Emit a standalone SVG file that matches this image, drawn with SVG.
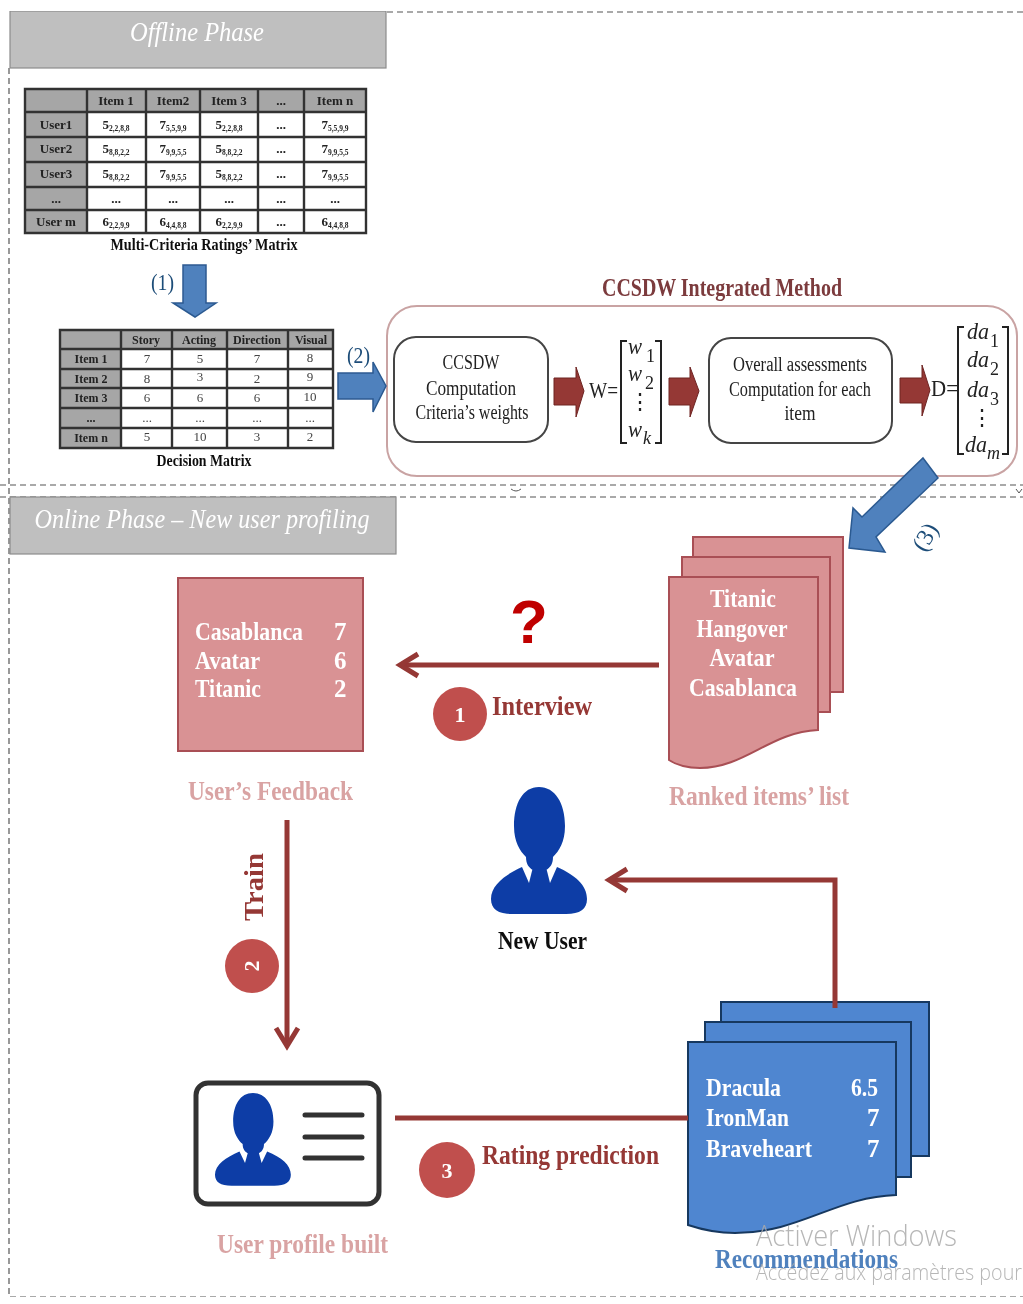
<svg xmlns="http://www.w3.org/2000/svg" width="1023" height="1304" viewBox="0 0 1023 1304">
<style>
text{font-family:"Liberation Serif","Times New Roman",serif}
.t1{font-size:13px;font-weight:bold;fill:#222;text-anchor:middle}
.t1 tspan{font-size:7.5px}
.t2{font-size:12px;font-weight:bold;fill:#222;text-anchor:middle}
.t2v{font-size:13px;fill:#444;text-anchor:middle}
.grid{stroke:#333;stroke-width:2.4;fill:none}
.hd{fill:#a6a6a6}
.cap{font-size:16px;font-weight:bold;fill:#111;text-anchor:middle}
.dash{stroke:#555;stroke-width:1.2;stroke-dasharray:6 4;fill:none}
.ph{fill:#bfbfbf;stroke:#8c8c8c;stroke-width:1.2}
.pht{font-size:28px;font-style:italic;fill:#fff;text-anchor:middle}
.barrow{fill:#4f81bd;stroke:#2c5a91;stroke-width:1.5}
.rarrow{fill:#953735;stroke:#6e2523;stroke-width:1}
.rline{fill:none;stroke:#953735;stroke-width:5}
.chev{fill:none;stroke:#953735;stroke-width:5}
.rbox{fill:#fff;stroke:#444;stroke-width:2}
.mt{font-size:20px;fill:#222;text-anchor:middle}
.math{font-size:24px;font-style:italic;fill:#222}
.sub{font-size:18px;fill:#222}
.dots{font-size:22px;fill:#222;text-anchor:middle}
.brk{fill:none;stroke:#222;stroke-width:2}
.pk{fill:#d99294;stroke:#a94f54;stroke-width:2}
.bl{fill:#4f86d0;stroke:#17375e;stroke-width:2}
.wt{font-size:25px;font-weight:bold;fill:#fff}
.mid{text-anchor:middle}
.circ{fill:#c0504d}
.cn{font-size:22px;font-weight:bold;fill:#fff;text-anchor:middle}
.rl{font-size:28px;font-weight:bold;fill:#953735}
.pl{font-size:28px;font-weight:bold;fill:#d9a3a3}
.person{fill:#0a3ea6}
.wm{font-family:"Open Sans",sans-serif;font-weight:300;fill:#aaa}
</style>
<defs>
<filter id="soft" x="0" y="0" width="100%" height="100%"><feGaussianBlur stdDeviation="0.45"/></filter>
<path id="person" d="M514 826C514 803 523 787 539 787C555 787 565 803 565 826C565 842 559 851 553 857C553 864 550 868 546 870L533 870C529 868 526 864 526 857C520 851 514 842 514 826ZM522 867L529 883L533 867H546L550 883L557 867C575 875 587 885 587 899C587 909 580 914 566 914H512C498 914 491 909 491 899C491 885 505 875 522 867Z"/>
</defs>
<rect width="1023" height="1304" fill="#fff"/>
<g filter="url(#soft)">
<g id="frame">
<path class="dash" d="M387 12H1023M9 68V1297H1023M0 485H1023M0 497H1023"/>
<path d="M511 489q5 4 10 0M1016 489l3 4 3-4" fill="none" stroke="#555"/>
</g>
<g id="offline-header">
<rect class="ph" x="10" y="11" width="376" height="57"/>
<text class="pht" x="197" y="41" textLength="134" lengthAdjust="spacingAndGlyphs">Offline Phase</text>
</g>
<g id="ratings-matrix">
<rect x="25" y="89" width="341" height="144" fill="#fff"/>
<rect class="hd" x="25" y="89" width="341" height="23"/>
<rect class="hd" x="25" y="89" width="62" height="144"/>
<path class="grid" d="M25 89H366V233H25ZM87 89V233M146 89V233M200 89V233M258 89V233M304 89V233M25 112H366M25 137H366M25 162H366M25 187H366M25 210H366"/>
<text class="t1" x="116" y="105">Item 1</text><text class="t1" x="173" y="105">Item2</text><text class="t1" x="229" y="105">Item 3</text><text class="t1" x="281" y="105">...</text><text class="t1" x="335" y="105">Item n</text>
<text class="t1" x="56" y="129">User1</text><text class="t1" x="56" y="153">User2</text><text class="t1" x="56" y="178">User3</text><text class="t1" x="56" y="203">...</text><text class="t1" x="56" y="226">User m</text>
<text class="t1" x="116" y="129">5<tspan dy="2">2,2,8,8</tspan></text><text class="t1" x="173" y="129">7<tspan dy="2">5,5,9,9</tspan></text><text class="t1" x="229" y="129">5<tspan dy="2">2,2,8,8</tspan></text><text class="t1" x="281" y="129">...</text><text class="t1" x="335" y="129">7<tspan dy="2">5,5,9,9</tspan></text>
<text class="t1" x="116" y="153">5<tspan dy="2">8,8,2,2</tspan></text><text class="t1" x="173" y="153">7<tspan dy="2">9,9,5,5</tspan></text><text class="t1" x="229" y="153">5<tspan dy="2">8,8,2,2</tspan></text><text class="t1" x="281" y="153">...</text><text class="t1" x="335" y="153">7<tspan dy="2">9,9,5,5</tspan></text>
<text class="t1" x="116" y="178">5<tspan dy="2">8,8,2,2</tspan></text><text class="t1" x="173" y="178">7<tspan dy="2">9,9,5,5</tspan></text><text class="t1" x="229" y="178">5<tspan dy="2">8,8,2,2</tspan></text><text class="t1" x="281" y="178">...</text><text class="t1" x="335" y="178">7<tspan dy="2">9,9,5,5</tspan></text>
<text class="t1" x="116" y="203">...</text><text class="t1" x="173" y="203">...</text><text class="t1" x="229" y="203">...</text><text class="t1" x="281" y="203">...</text><text class="t1" x="335" y="203">...</text>
<text class="t1" x="116" y="226">6<tspan dy="2">2,2,9,9</tspan></text><text class="t1" x="173" y="226">6<tspan dy="2">4,4,8,8</tspan></text><text class="t1" x="229" y="226">6<tspan dy="2">2,2,9,9</tspan></text><text class="t1" x="281" y="226">...</text><text class="t1" x="335" y="226">6<tspan dy="2">4,4,8,8</tspan></text>
<text class="cap" x="204" y="250" textLength="187" lengthAdjust="spacingAndGlyphs">Multi-Criteria Ratings’ Matrix</text>
</g>
<g id="decision-matrix">
<rect x="60" y="330" width="273" height="118" fill="#fff"/>
<rect class="hd" x="60" y="330" width="273" height="19"/>
<rect class="hd" x="60" y="330" width="61" height="118"/>
<path class="grid" d="M60 330H333V448H60ZM121 330V448M172 330V448M227 330V448M288 330V448M60 349H333M60 369H333M60 388H333M60 408H333M60 428H333"/>
<text class="t2" x="146" y="344">Story</text><text class="t2" x="199" y="344">Acting</text><text class="t2" x="257" y="344">Direction</text><text class="t2" x="311" y="344">Visual</text>
<text class="t2" x="91" y="363">Item 1</text><text class="t2" x="91" y="383">Item 2</text><text class="t2" x="91" y="402">Item 3</text><text class="t2" x="91" y="422">...</text><text class="t2" x="91" y="442">Item n</text>
<text class="t2v" x="147" y="363">7</text><text class="t2v" x="200" y="363">5</text><text class="t2v" x="257" y="363">7</text><text class="t2v" x="310" y="362">8</text>
<text class="t2v" x="147" y="383">8</text><text class="t2v" x="200" y="381">3</text><text class="t2v" x="257" y="383">2</text><text class="t2v" x="310" y="381">9</text>
<text class="t2v" x="147" y="402">6</text><text class="t2v" x="200" y="402">6</text><text class="t2v" x="257" y="402">6</text><text class="t2v" x="310" y="401">10</text>
<text class="t2v" x="147" y="422">...</text><text class="t2v" x="200" y="422">...</text><text class="t2v" x="257" y="422">...</text><text class="t2v" x="310" y="422">...</text>
<text class="t2v" x="147" y="441">5</text><text class="t2v" x="200" y="441">10</text><text class="t2v" x="257" y="441">3</text><text class="t2v" x="310" y="441">2</text>
<text class="cap" x="204" y="466" textLength="95" lengthAdjust="spacingAndGlyphs">Decision Matrix</text>
</g>
<g id="ccsdw-method">
<text x="722" y="296" font-size="25" font-weight="bold" fill="#7b3a3c" text-anchor="middle" textLength="240" lengthAdjust="spacingAndGlyphs">CCSDW Integrated Method</text>
<rect x="387" y="306" width="630" height="170" rx="30" fill="#fff" stroke="#c9a3a3" stroke-width="2"/>
</g>
<g id="ccsdw-computation">
<rect class="rbox" x="394" y="337" width="154" height="105" rx="22"/>
<text class="mt" x="471" y="369" textLength="57" lengthAdjust="spacingAndGlyphs">CCSDW</text><text class="mt" x="471" y="395" textLength="90" lengthAdjust="spacingAndGlyphs">Computation</text><text class="mt" x="472" y="419" textLength="113" lengthAdjust="spacingAndGlyphs">Criteria’s weights</text>
</g>
<g id="weights-vector">
<text x="589" y="398" font-size="24" fill="#222" textLength="29" lengthAdjust="spacingAndGlyphs">W=</text>
<path class="brk" d="M627 341H621V443H627M655 341H661V443H655"/>
<text class="math" x="628" y="354" textLength="14" lengthAdjust="spacingAndGlyphs">w</text><text class="sub" x="646" y="362">1</text>
<text class="math" x="628" y="381" textLength="14" lengthAdjust="spacingAndGlyphs">w</text><text class="sub" x="645" y="389">2</text>
<text class="dots" x="640" y="409">⋮</text>
<text class="math" x="628" y="437" textLength="14" lengthAdjust="spacingAndGlyphs">w</text><text class="sub" x="643" y="444" font-style="italic">k</text>
</g>
<g id="overall-assessments">
<rect class="rbox" x="709" y="338" width="183" height="105" rx="22"/>
<text class="mt" x="800" y="371" textLength="134" lengthAdjust="spacingAndGlyphs">Overall assessments</text><text class="mt" x="800" y="396" textLength="142" lengthAdjust="spacingAndGlyphs">Computation for each</text><text class="mt" x="800" y="420" textLength="31" lengthAdjust="spacingAndGlyphs">item</text>
</g>
<g id="scores-vector">
<text x="931" y="396" font-size="24" fill="#222" textLength="27" lengthAdjust="spacingAndGlyphs">D=</text>
<path class="brk" d="M964 327H958V454H964M1002 327H1008V454H1002"/>
<text class="math" x="967" y="339" textLength="22" lengthAdjust="spacingAndGlyphs">da</text><text class="sub" x="990" y="347">1</text>
<text class="math" x="967" y="367" textLength="22" lengthAdjust="spacingAndGlyphs">da</text><text class="sub" x="990" y="375">2</text>
<text class="math" x="967" y="397" textLength="22" lengthAdjust="spacingAndGlyphs">da</text><text class="sub" x="990" y="405">3</text>
<text class="dots" x="982" y="425">⋮</text>
<text class="math" x="965" y="452" textLength="22" lengthAdjust="spacingAndGlyphs">da</text><text class="sub" x="987" y="459" font-style="italic">m</text>
</g>
<g id="online-header">
<rect class="ph" x="10" y="497" width="386" height="57"/>
<text class="pht" x="202" y="528" textLength="335" lengthAdjust="spacingAndGlyphs">Online Phase – New user profiling</text>
</g>
<g id="users-feedback">
<rect class="pk" x="178" y="578" width="185" height="173" stroke="#c08085"/>
<text class="wt" x="195" y="640" textLength="108" lengthAdjust="spacingAndGlyphs">Casablanca</text><text class="wt" x="334" y="640">7</text>
<text class="wt" x="195" y="669" textLength="65" lengthAdjust="spacingAndGlyphs">Avatar</text><text class="wt" x="334" y="669">6</text>
<text class="wt" x="195" y="697" textLength="66" lengthAdjust="spacingAndGlyphs">Titanic</text><text class="wt" x="334" y="697">2</text>
<text class="pl" x="188" y="800" textLength="165" lengthAdjust="spacingAndGlyphs">User’s Feedback</text>
</g>
<g id="ranked-list">
<rect class="pk" x="693" y="537" width="150" height="155"/>
<rect class="pk" x="682" y="557" width="148" height="155"/>
<path class="pk" d="M669 577H818V730C770 732 745 768 700 768C685 768 675 764 669 760Z"/>
<text class="wt mid" x="743" y="607" textLength="66" lengthAdjust="spacingAndGlyphs">Titanic</text>
<text class="wt mid" x="742" y="637" textLength="91" lengthAdjust="spacingAndGlyphs">Hangover</text>
<text class="wt mid" x="742" y="666" textLength="65" lengthAdjust="spacingAndGlyphs">Avatar</text>
<text class="wt mid" x="743" y="696" textLength="108" lengthAdjust="spacingAndGlyphs">Casablanca</text>
<text class="pl" x="669" y="805" textLength="180" lengthAdjust="spacingAndGlyphs">Ranked items’ list</text>
</g>
<g id="new-user">
<use href="#person" class="person"/>
<text x="498" y="949" font-size="25" font-weight="bold" fill="#111" textLength="89" lengthAdjust="spacingAndGlyphs">New User</text>
</g>
<g id="user-profile">
<rect x="196" y="1083" width="183" height="121" rx="12" fill="#fff" stroke="#333" stroke-width="5"/>
<use href="#person" class="person" transform="translate(215 1093) scale(.79 .73) translate(-491 -787)"/>
<path d="M305 1115H362M305 1137H362M305 1158H362" fill="none" stroke="#333" stroke-width="5" stroke-linecap="round"/>
<text class="pl" x="217" y="1253" textLength="171" lengthAdjust="spacingAndGlyphs">User profile built</text>
</g>
<g id="recommendations">
<rect class="bl" x="721" y="1002" width="208" height="154"/>
<rect class="bl" x="705" y="1022" width="206" height="155"/>
<path class="bl" d="M688 1042H896V1195C835 1197 800 1233 735 1233C715 1233 700 1229 688 1225Z"/>
<text class="wt" x="706" y="1096" textLength="75" lengthAdjust="spacingAndGlyphs">Dracula</text><text class="wt" x="851" y="1096" textLength="27" lengthAdjust="spacingAndGlyphs">6.5</text>
<text class="wt" x="706" y="1126" textLength="83" lengthAdjust="spacingAndGlyphs">IronMan</text><text class="wt" x="867" y="1126">7</text>
<text class="wt" x="706" y="1157" textLength="106" lengthAdjust="spacingAndGlyphs">Braveheart</text><text class="wt" x="867" y="1157">7</text>
<text x="715" y="1268" font-size="28" font-weight="bold" fill="#4f81bd" textLength="183" lengthAdjust="spacingAndGlyphs">Recommendations</text>
</g>
<g id="connectors">
<path class="barrow" d="M183 265H206V303H216L195 317L173 303H183Z"/>
<text x="151" y="290" font-size="24" fill="#1f4e79" textLength="23" lengthAdjust="spacingAndGlyphs">(1)</text>
<path class="barrow" d="M338 373H373V362L386 386L373 412V399H338Z"/>
<text x="347" y="363" font-size="24" fill="#1f4e79" textLength="23" lengthAdjust="spacingAndGlyphs">(2)</text>
<path class="rarrow" d="M554 378H576V367L584 391L576 417V405H554Z"/>
<path class="rarrow" d="M669 378H690V367L699 391L690 417V405H669Z"/>
<path class="rarrow" d="M900 378H922V365L930 390L922 416V403H900Z"/>
<path class="barrow" d="M923 458L938 478L876 537L885 552L849 548L853 508L862 517Z"/>
<text font-size="24" fill="#1f4e79" text-anchor="middle" transform="translate(932 541) rotate(-60)">(3)</text>
<path class="rline" d="M659 665H402"/>
<path class="chev" d="M418 654L400 665L418 676"/>
<text x="529" y="643" font-size="62" font-weight="bold" fill="#c00000" text-anchor="middle" style="font-family:'Liberation Sans',sans-serif">?</text>
<circle class="circ" cx="460" cy="714" r="27"/>
<text class="cn" x="460" y="722">1</text>
<text class="rl" x="492" y="715" textLength="100" lengthAdjust="spacingAndGlyphs">Interview</text>
<path class="rline" d="M287 820V1043"/>
<path class="chev" d="M276 1028L287 1046L298 1028"/>
<text class="rl" transform="translate(263 921) rotate(-90)" textLength="68" lengthAdjust="spacingAndGlyphs">Train</text>
<circle class="circ" cx="252" cy="966" r="27"/>
<text class="cn" transform="translate(259 966) rotate(-90)">2</text>
<path class="rline" d="M395 1118H688"/>
<circle class="circ" cx="447" cy="1170" r="28"/>
<text class="cn" x="447" y="1178">3</text>
<text class="rl" x="482" y="1164" textLength="177" lengthAdjust="spacingAndGlyphs">Rating prediction</text>
<path class="rline" d="M835 1008V880H612"/>
<path class="chev" d="M627 869L609 880L627 891"/>
</g>
<g id="watermark" opacity=".85">
<text class="wm" x="756" y="1246" font-size="29" textLength="201" lengthAdjust="spacingAndGlyphs">Activer Windows</text>
<text class="wm" x="756" y="1280" font-size="22" textLength="266" lengthAdjust="spacingAndGlyphs">Accédez aux paramètres pour</text>
</g>
</g>
</svg>
